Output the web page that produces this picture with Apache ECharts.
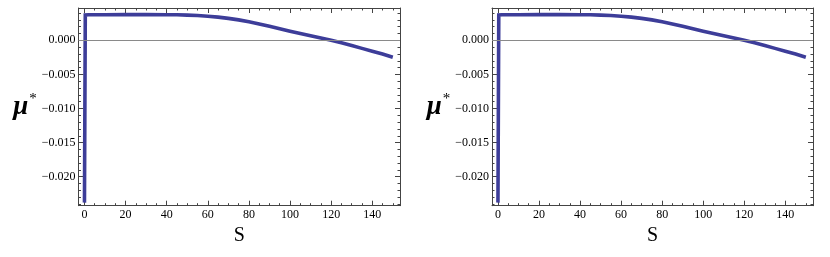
<!DOCTYPE html>
<html><head><meta charset="utf-8">
<script src="https://cdn.jsdelivr.net/npm/echarts@6/dist/echarts.min.js"></script>
<style>html,body{margin:0;padding:0;background:#fff}#c{width:830px;height:257px}</style>
</head><body><div id="c"></div>
<script>
// Data (same curve in both panels)
const sValues  = [0, 0.4, 2, 10, 20, 30, 40, 45, 50, 55, 60, 65, 70, 75, 80, 85, 90, 95, 100, 105, 110, 115, 120, 125, 130, 135, 140, 145, 150];
const muValues = [-0.0238, 0.00372, 0.00375, 0.00376, 0.00377, 0.00377, 0.00376, 0.00374, 0.0037, 0.00363, 0.00353, 0.0034, 0.00322, 0.003, 0.00272, 0.00241, 0.00205, 0.00168, 0.00132, 0.00099, 0.00066, 0.00033, 0, -0.00037, -0.00077, -0.00118, -0.00159, -0.002, -0.00247];

const xMajorTicks = [0, 20, 40, 60, 80, 100, 120, 140];
const xMinorTicks = [5, 10, 15, 25, 30, 35, 45, 50, 55, 65, 70, 75, 85, 90, 95, 105, 110, 115, 125, 130, 135, 145, 150];
const yMajorTicks = [-0.02, -0.015, -0.01, -0.005, 0];
const yMinorTicks = [-0.024, -0.023, -0.022, -0.021, -0.019, -0.018, -0.017, -0.016, -0.014, -0.013, -0.012, -0.011,
                     -0.009, -0.008, -0.007, -0.006, -0.004, -0.003, -0.002, -0.001, 0.001, 0.002, 0.003, 0.004];

const X_MIN = -2.9, X_MAX = 153.5, Y_MIN = -0.02425, Y_MAX = 0.00474;
const FRAME = '#444';
const SERIF = "'Liberation Serif', 'Times New Roman', serif";

const curve = sValues.map((s, i) => [s, muValues[i]]);

function fmtY(v) {
  if (Math.abs(v) < 1e-12) return '0.000';
  return (v < 0 ? '\u2212' : '') + Math.abs(v).toFixed(3);
}

const grids = [
  { left: 78.5, right: 430, top: 8, bottom: 51.3 },
  { left: 492, right: 17, top: 8, bottom: 51.3 }
];

const xAxes = [], yAxes = [], series = [];
grids.forEach((g, gi) => {
  const base = xAxes.length;
  xAxes.push({
    type: 'value', gridIndex: gi, position: 'bottom', min: X_MIN, max: X_MAX,
    axisLine: { show: true, onZero: false, lineStyle: { color: FRAME, width: 1 } },
    axisTick: { show: true, inside: true, length: 5, customValues: xMajorTicks, lineStyle: { color: FRAME } },
    axisLabel: { show: true, customValues: xMajorTicks, margin: 3, color: '#000', fontFamily: SERIF, fontSize: 12 },
    splitLine: { show: false },
    name: 'S', nameLocation: 'middle', nameGap: 17,
    nameTextStyle: { fontFamily: SERIF, fontSize: 20, color: '#000' }
  });
  xAxes.push({
    type: 'value', gridIndex: gi, position: 'bottom', min: X_MIN, max: X_MAX,
    axisLine: { show: false, onZero: false },
    axisTick: { show: true, inside: true, length: 2.5, customValues: xMinorTicks, lineStyle: { color: FRAME } },
    axisLabel: { show: false }, splitLine: { show: false }
  });
  xAxes.push({
    type: 'value', gridIndex: gi, position: 'top', min: X_MIN, max: X_MAX,
    axisLine: { show: true, onZero: false, lineStyle: { color: FRAME, width: 1 } },
    axisTick: { show: true, inside: true, length: 5, customValues: xMajorTicks, lineStyle: { color: FRAME } },
    axisLabel: { show: false }, splitLine: { show: false }
  });
  xAxes.push({
    type: 'value', gridIndex: gi, position: 'top', min: X_MIN, max: X_MAX,
    axisLine: { show: false, onZero: false },
    axisTick: { show: true, inside: true, length: 2.5, customValues: xMinorTicks, lineStyle: { color: FRAME } },
    axisLabel: { show: false }, splitLine: { show: false }
  });

  yAxes.push({
    type: 'value', gridIndex: gi, position: 'left', min: Y_MIN, max: Y_MAX,
    axisLine: { show: true, onZero: false, lineStyle: { color: FRAME, width: 1 } },
    axisTick: { show: true, inside: true, length: 5, customValues: yMajorTicks, lineStyle: { color: FRAME } },
    axisLabel: { show: true, customValues: yMajorTicks, formatter: fmtY, margin: 3, color: '#000', fontFamily: SERIF, fontSize: 12 },
    splitLine: { show: false },
    name: '{m|\u03bc}{s|*}', nameLocation: 'middle', nameGap: 40, nameRotate: 0,
    nameTextStyle: {
      rich: {
        m: { fontFamily: SERIF, fontStyle: 'italic', fontWeight: 'bold', fontSize: 27, color: '#000', lineHeight: 30 },
        s: { fontFamily: SERIF, fontSize: 15, color: '#000', verticalAlign: 'top', padding: [0, 0, 2, 1] }
      }
    }
  });
  yAxes.push({
    type: 'value', gridIndex: gi, position: 'left', min: Y_MIN, max: Y_MAX,
    axisLine: { show: false, onZero: false },
    axisTick: { show: true, inside: true, length: 2.5, customValues: yMinorTicks, lineStyle: { color: FRAME } },
    axisLabel: { show: false }, splitLine: { show: false }
  });
  yAxes.push({
    type: 'value', gridIndex: gi, position: 'right', min: Y_MIN, max: Y_MAX,
    axisLine: { show: true, onZero: false, lineStyle: { color: FRAME, width: 1 } },
    axisTick: { show: true, inside: true, length: 5, customValues: yMajorTicks, lineStyle: { color: FRAME } },
    axisLabel: { show: false }, splitLine: { show: false }
  });
  yAxes.push({
    type: 'value', gridIndex: gi, position: 'right', min: Y_MIN, max: Y_MAX,
    axisLine: { show: false, onZero: false },
    axisTick: { show: true, inside: true, length: 2.5, customValues: yMinorTicks, lineStyle: { color: FRAME } },
    axisLabel: { show: false }, splitLine: { show: false }
  });

  series.push({
    type: 'line', xAxisIndex: base, yAxisIndex: base, data: curve,
    showSymbol: false, symbol: 'none', smooth: false, animation: false,
    lineStyle: { color: '#3d3d99', width: 3.6, join: 'miter', cap: 'butt' },
    markLine: {
      silent: true, symbol: 'none', animation: false, label: { show: false },
      lineStyle: { color: '#8a8a8a', width: 1, type: 'solid' },
      data: [{ yAxis: 0 }]
    },
    z: 3
  });
});

const chart = echarts.init(document.getElementById('c'), null, { renderer: 'canvas' });
chart.setOption({
  animation: false,
  backgroundColor: '#fff',
  grid: grids,
  xAxis: xAxes,
  yAxis: yAxes,
  series: series
});
</script>
</body></html>
